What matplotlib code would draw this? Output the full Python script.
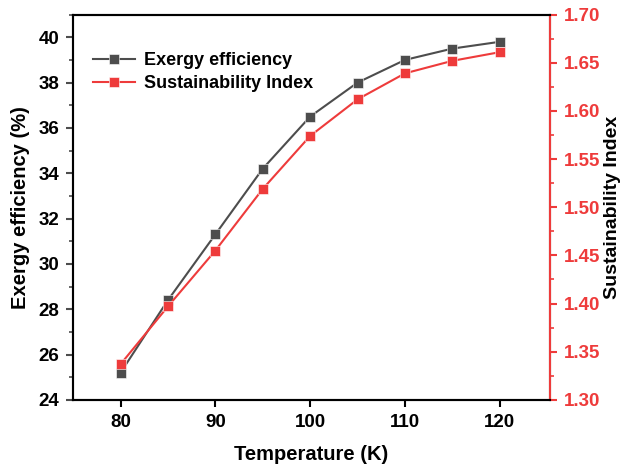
import matplotlib
matplotlib.use("Agg")
import matplotlib.pyplot as plt
from matplotlib.ticker import MultipleLocator

plt.rcParams['font.family'] = ['Liberation Sans', 'DejaVu Sans']
plt.rcParams['font.weight'] = 'bold'

temperature = [80, 85, 90, 95, 100, 105, 110, 115, 120]
exergy_eff = [25.2, 28.4, 31.3, 34.2, 36.5, 38.0, 39.0, 39.5, 39.8]
sust_index = [1.337, 1.397, 1.455, 1.519, 1.574, 1.612, 1.639, 1.652, 1.661]

gray = '#4d4d4d'
red = '#ee3b3b'

fig = plt.figure(figsize=(6.25, 4.71), dpi=100)
ax = fig.add_axes([0.117, 0.151, 0.763, 0.818])
ax2 = ax.twinx()

l1, = ax.plot(temperature, exergy_eff, '-s', color=gray, lw=1.5, ms=6.5,
              mec='white', mew=0.4, label='Exergy efficiency')
l2, = ax2.plot(temperature, sust_index, '-s', color=red, lw=1.5, ms=6.5,
               mec='white', mew=0.4, label='Sustainability Index')

ax.set_xlim(75, 125.3)
ax.set_ylim(24, 41)
ax2.set_ylim(1.30, 1.70)

ax.xaxis.set_major_locator(MultipleLocator(10))
ax.yaxis.set_major_locator(MultipleLocator(2))
ax.yaxis.set_minor_locator(MultipleLocator(1))
ax2.yaxis.set_major_locator(MultipleLocator(0.05))
ax2.yaxis.set_minor_locator(MultipleLocator(0.025))
ax2.yaxis.set_major_formatter(plt.FormatStrFormatter('%.2f'))

for a in (ax, ax2):
    for s in a.spines.values():
        s.set_linewidth(1.5)
ax2.spines['right'].set_color(red)
ax.spines['left'].set_color(gray)

ax.tick_params(axis='both', which='major', labelsize=13.5, width=1.5, length=5,
               direction='out', pad=5)
ax.tick_params(axis='y', which='minor', width=1.2, length=3, colors=gray)
ax.tick_params(axis='y', which='major', colors=gray, labelcolor='black')
ax2.tick_params(axis='y', which='major', labelsize=13.5, width=1.5, length=5,
                colors=red, labelcolor=red, pad=5)
ax2.tick_params(axis='y', which='minor', width=1.2, length=3, colors=red)

ax.set_xlabel('Temperature (K)', fontsize=14.5, fontweight='bold', labelpad=10)
ax.set_ylabel('Exergy efficiency (%)', fontsize=14.5, fontweight='bold', labelpad=6)
ax2.set_ylabel('Sustainability Index', fontsize=14, fontweight='bold', labelpad=3)

ax.legend([l1, l2], ['Exergy efficiency', 'Sustainability Index'],
          loc='upper left', bbox_to_anchor=(0.02, 0.93), frameon=False,
          fontsize=13, handlelength=2.3, borderaxespad=0.2, labelspacing=0.3,
          handletextpad=0.5)

fig.savefig('out.png', dpi=100)
